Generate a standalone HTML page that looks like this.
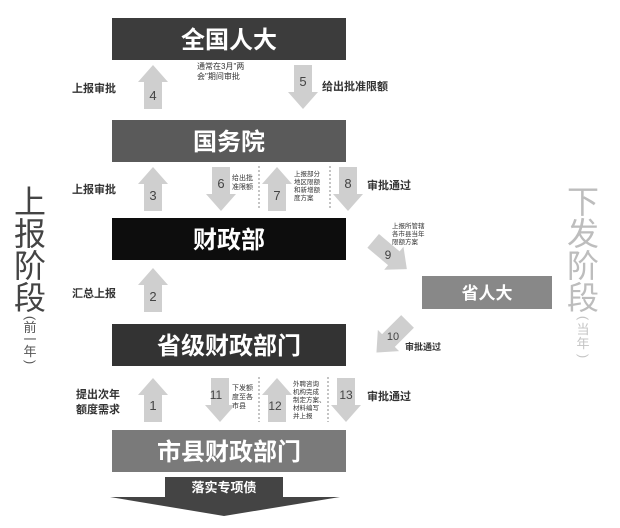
<!DOCTYPE html>
<html><head><meta charset="utf-8"><style>
html,body{margin:0;padding:0;background:#fff;width:620px;height:528px;overflow:hidden}
svg{display:block}
text{font-family:"Liberation Sans","Noto Sans CJK SC",sans-serif}
.b{font-weight:bold}
</style></head><body>
<svg width="620" height="528" viewBox="0 0 620 528" xmlns="http://www.w3.org/2000/svg">
<defs>
<path id="up" d="M0,0 L15,17 L9,17 L9,44 L-9,44 L-9,17 L-15,17 Z" fill="#cfcfcf"/>
<path id="dn" d="M0,44 L15,27 L9,27 L9,0 L-9,0 L-9,27 L-15,27 Z" fill="#cfcfcf"/>
</defs>
<rect x="112" y="18" width="234" height="42" fill="#3c3c3c"/>
<text class="b" x="229" y="48" font-size="24" fill="#fff" text-anchor="middle">全国人大</text>
<rect x="112" y="120" width="234" height="42" fill="#5a5a5a"/>
<text class="b" x="229" y="150" font-size="24" fill="#fff" text-anchor="middle">国务院</text>
<rect x="112" y="218" width="234" height="42" fill="#0d0d0d"/>
<text class="b" x="229" y="248" font-size="24" fill="#fff" text-anchor="middle">财政部</text>
<rect x="112" y="324" width="234" height="42" fill="#333"/>
<text class="b" x="229" y="354" font-size="24" fill="#fff" text-anchor="middle">省级财政部门</text>
<rect x="112" y="430" width="234" height="42" fill="#7a7a7a"/>
<text class="b" x="229" y="460" font-size="24" fill="#fff" text-anchor="middle">市县财政部门</text>
<rect x="422" y="276" width="130" height="33" fill="#888"/>
<text class="b" x="487" y="299" font-size="17" fill="#fff" text-anchor="middle">省人大</text>
<rect x="165" y="477" width="118" height="20" fill="#444"/>
<text x="224" y="492" font-size="13" font-weight="bold" fill="#fff" text-anchor="middle">落实专项债</text>
<path d="M110,497 L340,497 L224,516 Z" fill="#444"/>
<use href="#up" x="153" y="65"/><text x="153" y="100" font-size="13" text-anchor="middle" fill="#444">4</text>
<use href="#dn" x="303" y="65"/><text x="303" y="86" font-size="13" text-anchor="middle" fill="#444">5</text>
<text class="b" x="72" y="92" font-size="11" fill="#333">上报审批</text>
<text x="197" y="69" font-size="8" fill="#333">通常在3月"两</text>
<text x="197" y="79" font-size="8" fill="#333">会"期间审批</text>
<text class="b" x="322" y="90" font-size="11" fill="#333">给出批准限额</text>
<use href="#up" x="153" y="167"/><text x="153" y="200" font-size="13" text-anchor="middle" fill="#444">3</text>
<text class="b" x="72" y="193" font-size="11" fill="#333">上报审批</text>
<use href="#dn" x="221" y="167"/><text x="221" y="188" font-size="13" text-anchor="middle" fill="#444">6</text>
<text x="232" y="180" font-size="7" fill="#333">给出批</text>
<text x="232" y="189" font-size="7" fill="#333">准限额</text>
<line x1="259" y1="166" x2="259" y2="208" stroke="#888" stroke-dasharray="2,2"/>
<use href="#up" x="277" y="167"/><text x="277" y="200" font-size="13" text-anchor="middle" fill="#444">7</text>
<text x="294" y="176" font-size="6.5" fill="#333">上报部分</text>
<text x="294" y="184" font-size="6.5" fill="#333">地区限额</text>
<text x="294" y="192" font-size="6.5" fill="#333">和新增额</text>
<text x="294" y="200" font-size="6.5" fill="#333">度方案</text>
<line x1="330" y1="166" x2="330" y2="208" stroke="#888" stroke-dasharray="2,2"/>
<use href="#dn" x="348" y="167"/><text x="348" y="188" font-size="13" text-anchor="middle" fill="#444">8</text>
<text class="b" x="367" y="189" font-size="11" fill="#333">审批通过</text>
<use href="#up" x="153" y="268"/><text x="153" y="301" font-size="13" text-anchor="middle" fill="#444">2</text>
<text class="b" x="72" y="297" font-size="11" fill="#333">汇总上报</text>
<g transform="translate(390,255) rotate(-50)"><use href="#dn" x="0" y="-22"/><text x="-2" y="4" font-size="12" text-anchor="middle" fill="#444" transform="rotate(50)">9</text></g>
<text x="392" y="228" font-size="6.5" fill="#333">上报所管辖</text>
<text x="392" y="236" font-size="6.5" fill="#333">各市县当年</text>
<text x="392" y="244" font-size="6.5" fill="#333">限额方案</text>
<g transform="translate(392,337) rotate(45)"><use href="#dn" x="0" y="-22"/></g>
<text x="393" y="340" font-size="11" text-anchor="middle" fill="#444">10</text>
<text class="b" x="405" y="350" font-size="9" fill="#333">审批通过</text>
<use href="#up" x="153" y="378"/><text x="153" y="410" font-size="13" text-anchor="middle" fill="#444">1</text>
<text class="b" x="76" y="398" font-size="11" fill="#333">提出次年</text>
<text class="b" x="76" y="413" font-size="11" fill="#333">额度需求</text>
<use href="#dn" x="220" y="378"/><text x="216" y="399" font-size="12" text-anchor="middle" fill="#444">11</text>
<text x="232" y="390" font-size="7" fill="#333">下发额</text>
<text x="232" y="399" font-size="7" fill="#333">度至各</text>
<text x="232" y="408" font-size="7" fill="#333">市县</text>
<line x1="259" y1="377" x2="259" y2="422" stroke="#888" stroke-dasharray="2,2"/>
<use href="#up" x="277" y="378"/><text x="275" y="410" font-size="12" text-anchor="middle" fill="#444">12</text>
<text x="293" y="386" font-size="6.5" fill="#333">外聘咨询</text>
<text x="293" y="394" font-size="6.5" fill="#333">机构完成</text>
<text x="293" y="402" font-size="6.5" fill="#333">制定方案、</text>
<text x="293" y="410" font-size="6.5" fill="#333">材料编写</text>
<text x="293" y="418" font-size="6.5" fill="#333">并上报</text>
<line x1="328" y1="377" x2="328" y2="422" stroke="#888" stroke-dasharray="2,2"/>
<use href="#dn" x="346" y="378"/><text x="346" y="399" font-size="12" text-anchor="middle" fill="#444">13</text>
<text class="b" x="367" y="400" font-size="11" fill="#333">审批通过</text>
<g font-size="32" fill="#444" text-anchor="middle">
<text x="30" y="213">上</text><text x="30" y="245">报</text><text x="30" y="277">阶</text><text x="30" y="309">段</text></g>
<g font-size="13" fill="#555" text-anchor="middle">
<text x="30" y="322" transform="rotate(90 30 318)">(</text>
<text x="30" y="332">前</text><text x="30" y="344">一</text><text x="30" y="356">年</text>
<text x="30" y="366" transform="rotate(90 30 362)">)</text></g>
<g font-size="32" fill="#bdbdbd" text-anchor="middle">
<text x="583" y="213">下</text><text x="583" y="245">发</text><text x="583" y="277">阶</text><text x="583" y="309">段</text></g>
<g font-size="13" fill="#c4c4c4" text-anchor="middle">
<text x="583" y="322" transform="rotate(90 583 318)">(</text>
<text x="583" y="334">当</text><text x="583" y="348">年</text>
<text x="583" y="360" transform="rotate(90 583 356)">)</text></g>
</svg>
</body></html>
